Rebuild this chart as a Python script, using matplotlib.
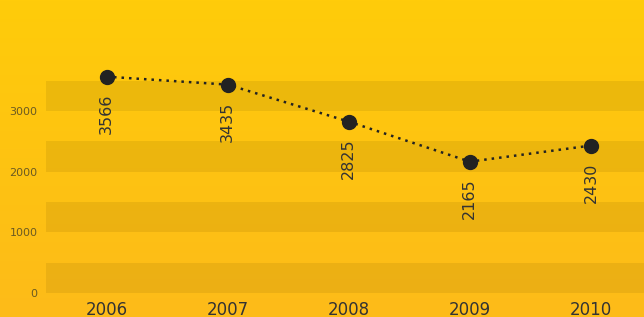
import numpy as np
import matplotlib
matplotlib.use("Agg")
import matplotlib.pyplot as plt
from matplotlib.colors import LinearSegmentedColormap

years = ["2006", "2007", "2008", "2009", "2010"]
values = [3566, 3435, 2825, 2165, 2430]
yticks = [0, 1000, 2000, 3000]
bands = [(0, 500), (1000, 1500), (2000, 2500), (3000, 3500)]

W, H = 644, 317
fig = plt.figure(figsize=(W / 100, H / 100), dpi=100)

# gradient background
bg = fig.add_axes([0, 0, 1, 1], zorder=0)
cmap = LinearSegmentedColormap.from_list("g", ["#FFCC0A", "#FDBB19"])
grad = np.linspace(0, 1, 256).reshape(-1, 1)
bg.imshow(grad, aspect="auto", cmap=cmap, extent=[0, 1, 0, 1], origin="upper")
bg.set_axis_off()

left = 46 / W
bottom = (H - 293) / H
ax = fig.add_axes([left, bottom, 1 - left, 293 / H], zorder=1)
ax.patch.set_alpha(0)
x = np.arange(len(years))
ax.set_xlim(-0.5, (644 - 107) / 121)
ax.set_ylim(0, 293 / (182 / 3000))

for lo, hi in bands:
    ax.axhspan(lo, hi, color="#7a5a00", alpha=0.13, lw=0, zorder=1)

ax.plot(x, values, linestyle=(0, (1, 2)), color="#222222", lw=1.8, zorder=3,
        marker="o", markersize=10, markerfacecolor="#222222",
        markeredgecolor="#222222")

for xi, v in zip(x, values):
    ax.annotate(str(v), (xi, v), xytext=(0, -12), textcoords="offset points",
                rotation=90, ha="center", va="top", fontsize=11.5,
                color="#333333", zorder=4)

for s in ax.spines.values():
    s.set_visible(False)
ax.set_xticks(x)
ax.set_xticklabels(years, fontsize=12, color="#333333")
ax.set_yticks(yticks)
ax.set_yticklabels([str(t) for t in yticks], fontsize=8, color="#6b5a22")
ax.tick_params(length=0)
ax.tick_params(axis="x", pad=6)
ax.tick_params(axis="y", pad=6)

fig.savefig("out.png", dpi=100)
